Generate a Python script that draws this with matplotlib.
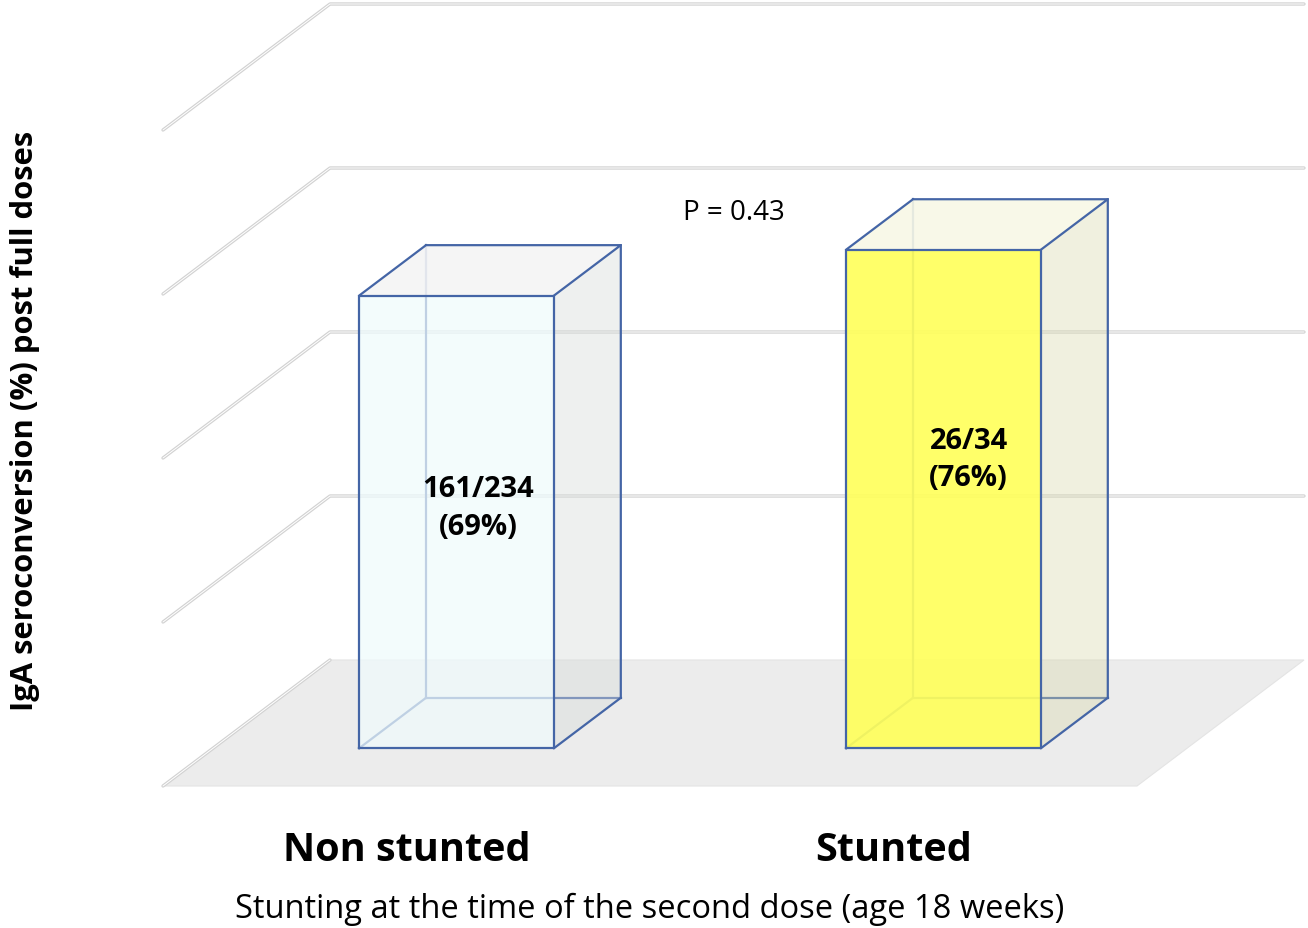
import matplotlib
matplotlib.use("Agg")
import matplotlib.pyplot as plt
from matplotlib.patches import Polygon

# ---- data -------------------------------------------------------------
categories = ["Non stunted", "Stunted"]
seroconverted = [161, 26]
group_totals = [234, 34]
percent = [69, 76]
p_value_text = "P = 0.43"
gridline_values = [0, 25, 50, 75, 100]
x_title = "Stunting at the time of the second dose (age 18 weeks)"
y_title = "IgA seroconversion (%) post full doses"

# ---- oblique projection of (category position, value, depth) ----------
W, H = 1308, 929
ORIGIN = (163.0, 787.0)     # front-left corner of the floor
CAT_W = 487.0               # width of one category slot
VAL_PX = 6.56               # pixels per percentage point
DEPTH = (167.0, -126.0)     # screen offset from front to back plane
BAR_HALF = 0.2              # half bar width, in category units
BAR_D0, BAR_D1 = 0.30, 0.70 # bar depth range


def proj(x, v, d):
    return (ORIGIN[0] + x * CAT_W + d * DEPTH[0],
            ORIGIN[1] - v * VAL_PX + d * DEPTH[1])


fig = plt.figure(figsize=(W / 100, H / 100), dpi=100)
ax = fig.add_axes([0, 0, 1, 1])
ax.set_xlim(0, W)
ax.set_ylim(H, 0)
ax.axis("off")

n = len(categories)
grid_col = "#d2d2d2"


def wall_line(pts, z=1):
    xs, ys = zip(*pts)
    ax.plot(xs, ys, color=grid_col, lw=2.4, solid_capstyle="round",
            solid_joinstyle="round", zorder=z)
    ax.plot(xs, ys, color="white", lw=0.7, solid_capstyle="round",
            solid_joinstyle="round", zorder=z + 0.1)


# floor
floor = [proj(0, 0, 0), proj(n, 0, 0), proj(n, 0, 1), proj(0, 0, 1)]
ax.add_patch(Polygon(floor, closed=True, facecolor="#ececec",
                     edgecolor="#e4e4e4", lw=0.8, zorder=1))

# side wall + back wall gridlines
for gv in gridline_values:
    if gv == 0:
        wall_line([proj(0, 0, 0), proj(0, 0, 1)], z=1.5)
        continue
    wall_line([proj(0, gv, 0), proj(0, gv, 1), proj(n, gv, 1)])

# ---- bars -------------------------------------------------------------
edge_col = "#4465a6"
styles = [
    dict(front="#effbfc", front_a=0.72, side="#d8dcdb", side_a=0.42,
         top="#f4f4f4", top_a=0.9),
    dict(front="#ffff5c", front_a=0.92, side="#d9d9ac", side_a=0.38,
         top="#f8f8e6", top_a=0.9),
]

for i, (val, st) in enumerate(zip(percent, styles)):
    cx = i + 0.5
    x0, x1 = cx - BAR_HALF, cx + BAR_HALF
    d0, d1 = BAR_D0, BAR_D1

    # hidden edges (seen through the translucent faces)
    hidden = [
        [proj(x0, 0, d1), proj(x0, val, d1)],
        [proj(x0, 0, d1), proj(x1, 0, d1)],
        [proj(x0, 0, d0), proj(x0, 0, d1)],
    ]
    for seg in hidden:
        xs, ys = zip(*seg)
        ax.plot(xs, ys, color=edge_col, lw=1.6, zorder=3)

    # faces
    side = [proj(x1, 0, d0), proj(x1, 0, d1), proj(x1, val, d1), proj(x1, val, d0)]
    top = [proj(x0, val, d0), proj(x1, val, d0), proj(x1, val, d1), proj(x0, val, d1)]
    front = [proj(x0, 0, d0), proj(x1, 0, d0), proj(x1, val, d0), proj(x0, val, d0)]
    ax.add_patch(Polygon(side, closed=True, facecolor=st["side"],
                         alpha=st["side_a"], lw=0, zorder=4))
    ax.add_patch(Polygon(top, closed=True, facecolor=st["top"],
                         alpha=st["top_a"], lw=0, zorder=4))
    ax.add_patch(Polygon(front, closed=True, facecolor=st["front"],
                         alpha=st["front_a"], lw=0, zorder=5))

    # visible edges
    visible = [
        front + [front[0]],
        [proj(x0, val, d0), proj(x0, val, d1), proj(x1, val, d1), proj(x1, val, d0)],
        [proj(x1, val, d1), proj(x1, 0, d1), proj(x1, 0, d0)],
    ]
    for seg in visible:
        xs, ys = zip(*seg)
        ax.plot(xs, ys, color=edge_col, lw=1.6, solid_joinstyle="round", zorder=6)

    # value label
    lx, ly = proj(cx, val - 34.8, 0.43 + 0.02 * i)
    ax.text(lx, ly, f"{seroconverted[i]}/{group_totals[i]}\n({val}%)",
            ha="center", va="center", fontsize=21, fontweight="bold",
            family="Open Sans", linespacing=1.38, zorder=7)

    # category label
    tx, _ = proj(cx, 0, 0)
    ax.text(tx, 851, categories[i], ha="center", va="center",
            fontsize=28.5, fontweight="bold", family="Open Sans", zorder=7)

# p-value annotation
px, py = proj(n / 2, 78, 0.5)
ax.text(px, py + 1, p_value_text, ha="center", va="center", fontsize=20,
        family="Open Sans", zorder=7)

# axis titles
ax.text(650, 909, x_title, ha="center", va="center", fontsize=23.5,
        family="Open Sans", zorder=7)
ax.text(25, 421, y_title, ha="center", va="center", rotation=90,
        fontsize=22.3, fontweight="bold", family="Open Sans", zorder=7)

fig.savefig("out.png", dpi=100)
